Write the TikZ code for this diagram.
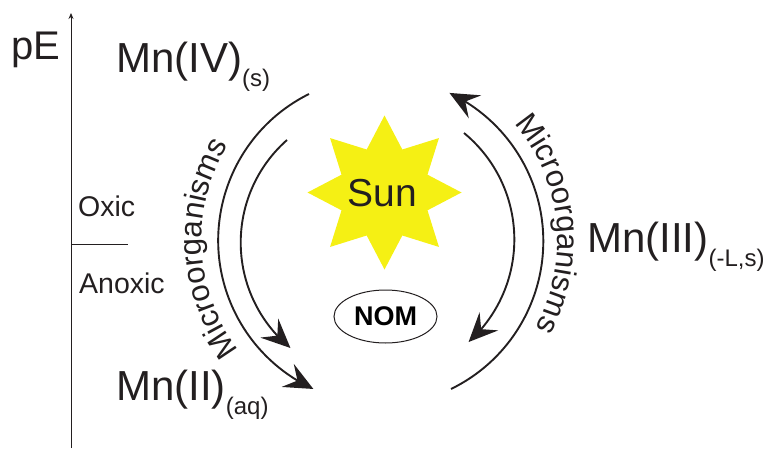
\documentclass[tikz,border=0pt]{standalone}
\usepackage{fontspec}
\setmainfont{Liberation Sans}
\usetikzlibrary{arrows.meta,decorations.text,bending,shapes.geometric}
\definecolor{sunyellow}{RGB}{245,240,20}
\definecolor{ink}{RGB}{35,31,32}
\newcommand{\subs}[1]{\raisebox{-14pt}{\fontsize{24}{24}\selectfont #1}}
\tikzset{
 lab/.style={inner sep=0pt,anchor=base west,text=ink},
 big/.style={lab,font=\fontsize{42}{42}\selectfont},
 small/.style={lab,font=\fontsize{28.5}{28.5}\selectfont},
 curve/.style={line width=1.9pt,draw=ink},
 tipped/.style={curve,-{Stealth[length=29pt,width=26pt,inset=11pt,flex=1]}},
 micro/.style={decorate,decoration={text along path,text align={align=center},
   text={|\fontsize{31}{31}\selectfont\color{ink}|Microorganisms}}},
 axis/.style={line width=0.8pt,draw=ink}
}
\begin{document}
\begin{tikzpicture}[x=1pt,y=1pt]
\useasboundingbox (0,0) rectangle (767,448);
% axis
\coordinate (axb) at (71,0);
\coordinate (axt) at (71,435);
\draw[axis,-{Stealth[length=6pt,width=5pt]}] (axb) -- (axt);
\coordinate (d1) at (71,204);
\coordinate (d2) at (128,204);
\draw[axis] (d1) -- (d2);
% labels
\node[lab,font=\fontsize{40}{40}\selectfont] (pe) at (11,388) {pE};
\node[big] (m4) at (116,375) {Mn(IV)\subs{(s)}};
\node[big] (m2) at (116,48) {Mn(II)\subs{(aq)}};
\node[big] (m3) at (587,196) {Mn(III)\subs{(-L,s)}};
\node[small] (ox) at (78,232) {Oxic};
\node[small] (an) at (79,155) {Anoxic};
% sun
\node[star,star points=8,star point ratio=1.655,minimum size=154pt,inner sep=0pt,outer sep=0pt,
  fill=sunyellow] (sun) at (384.5,255.5) {};
\node[font=\fontsize{39}{39}\selectfont,text=ink,inner sep=0pt,anchor=base] (suntext) at (382.5,242) {Sun};
% NOM
\node[ellipse,draw=ink,line width=1pt,minimum width=103pt,minimum height=53pt,inner sep=0pt,
  font=\bfseries\fontsize{27}{27}\selectfont,text=black] (nom) at (385.5,131.5) {NOM};
% arcs
\coordinate (lo) at (309,354);
\draw[tipped] (lo) arc[start angle=116.4,end angle=245.3,radius=163.5];
\coordinate (li) at (287,308);
\draw[tipped] (li) arc[start angle=131.4,end angle=230.5,radius=136.7];
\coordinate (ro) at (451,59);
\draw[tipped] (ro) arc[start angle=-64,end angle=64.6,radius=164.3];
\coordinate (ri) at (464,315);
\draw[tipped] (ri) arc[start angle=50.6,end angle=-48.1,radius=137.8];
% text on arcs
\coordinate (cl) at (381.5,208);
\coordinate (cr) at (378.7,207);
\path[micro] (cl) ++(218:180) arc[start angle=218,end angle=148,radius=180];
\path[micro] (cr) ++(42:179) arc[start angle=42,end angle=-30,radius=179];
\end{tikzpicture}
\end{document}
